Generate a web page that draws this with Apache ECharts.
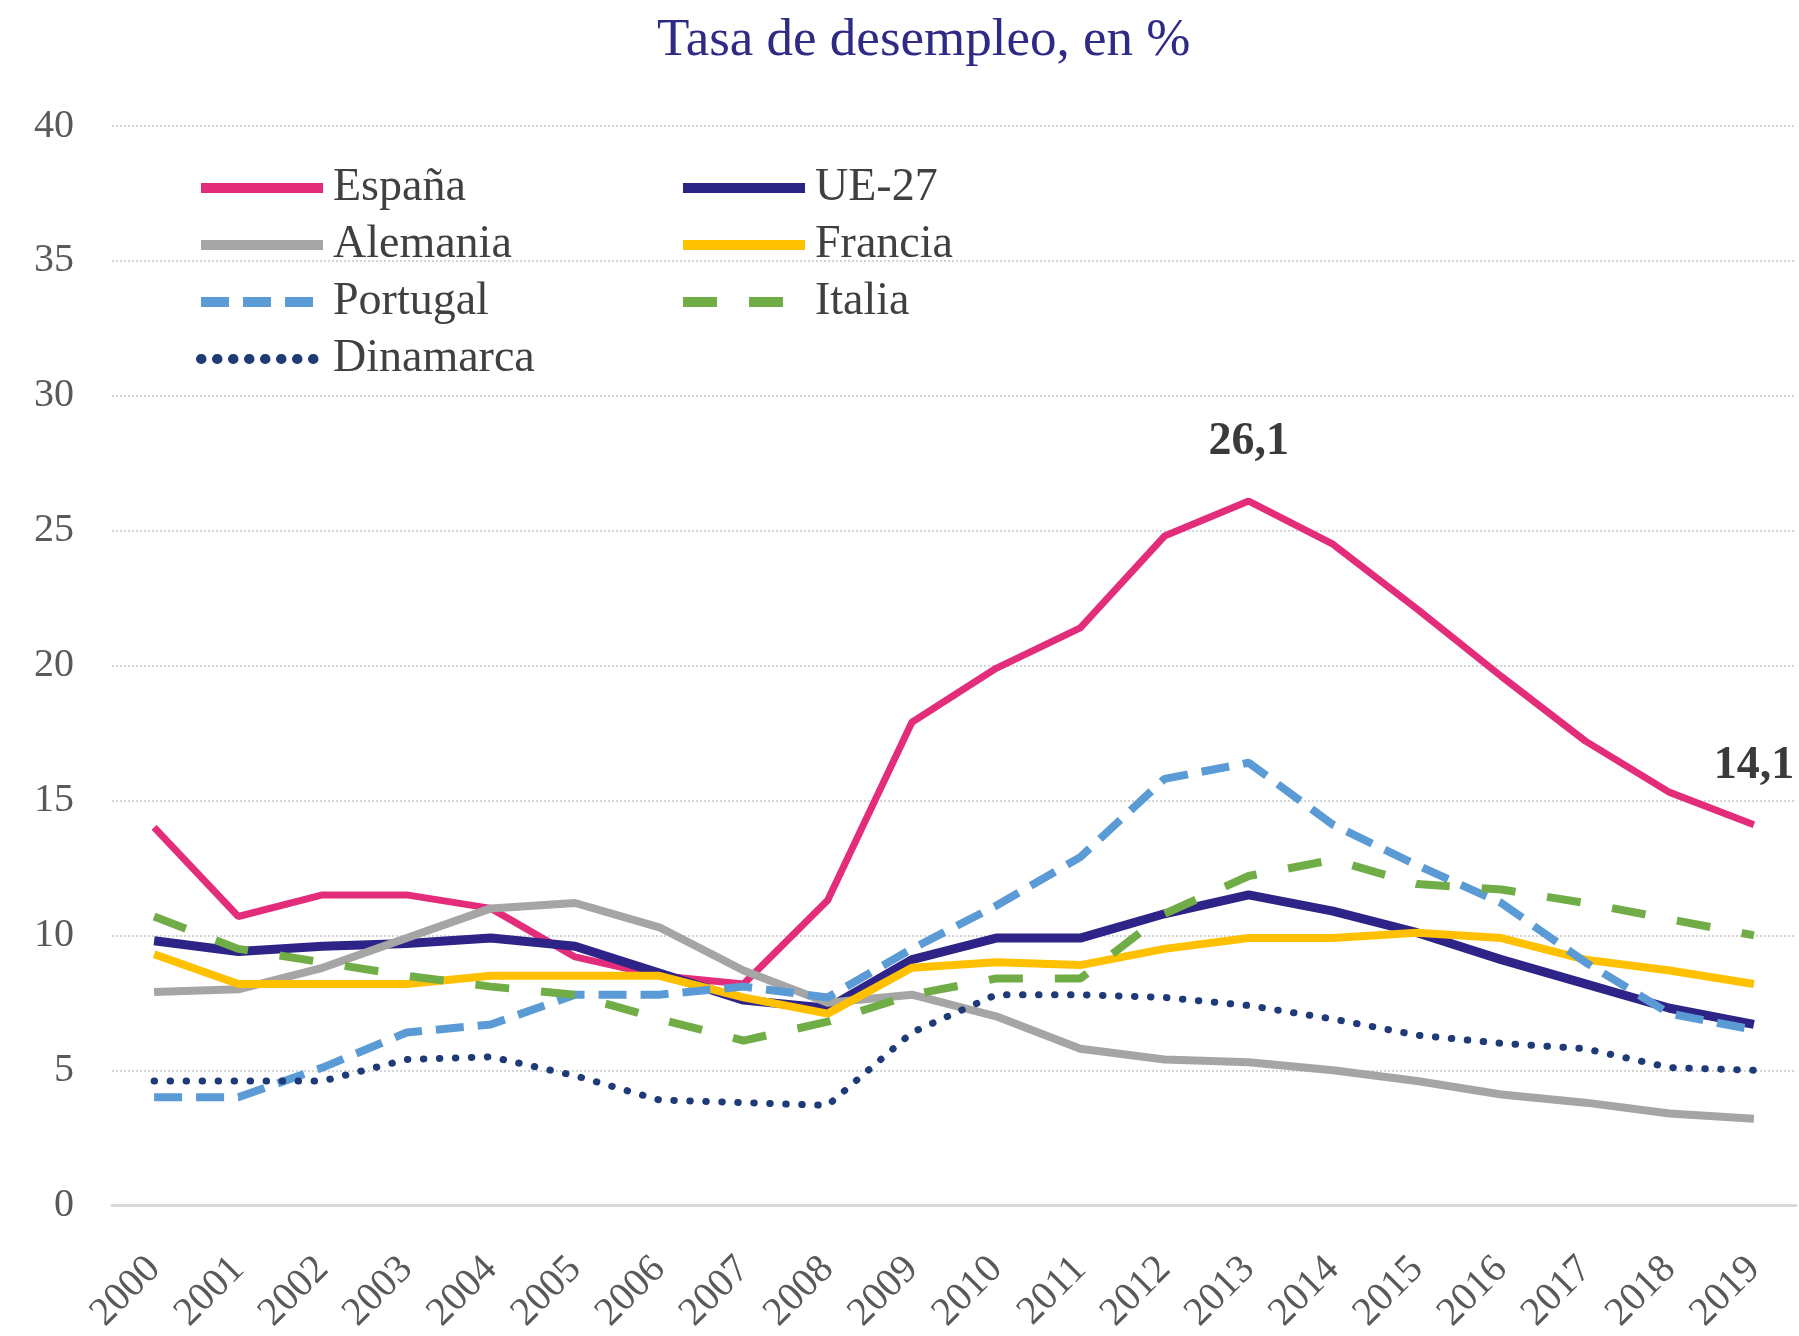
<!DOCTYPE html>
<html>
<head>
<meta charset="utf-8">
<title>Tasa de desempleo</title>
<script src="https://cdn.jsdelivr.net/npm/echarts@6/dist/echarts.min.js"></script>
<style>
    html, body { margin: 0; padding: 0; background: #fff; }
    #chart { width: 1799px; height: 1336px; }
</style>
</head>
<body>
<div id="chart"></div>
<script>
    // años
    var years = ['2000', '2001', '2002', '2003', '2004', '2005', '2006', '2007', '2008', '2009',
        '2010', '2011', '2012', '2013', '2014', '2015', '2016', '2017', '2018', '2019'];

    // tasas
    var espana = [14.0, 10.7, 11.5, 11.5, 11.0, 9.2, 8.5, 8.2, 11.3, 17.9, 19.9, 21.4, 24.8, 26.1, 24.5, 22.1, 19.6, 17.2, 15.3, 14.1];
    var ue27 = [9.8, 9.4, 9.6, 9.7, 9.9, 9.6, 8.6, 7.6, 7.3, 9.1, 9.9, 9.9, 10.8, 11.5, 10.9, 10.1, 9.1, 8.2, 7.3, 6.7];
    var alemania = [7.9, 8.0, 8.8, 9.9, 11.0, 11.2, 10.3, 8.7, 7.5, 7.8, 7.0, 5.8, 5.4, 5.3, 5.0, 4.6, 4.1, 3.8, 3.4, 3.2];
    var francia = [9.3, 8.2, 8.2, 8.2, 8.5, 8.5, 8.5, 7.7, 7.1, 8.8, 9.0, 8.9, 9.5, 9.9, 9.9, 10.1, 9.9, 9.1, 8.7, 8.2];
    var portugal = [4.0, 4.0, 5.1, 6.4, 6.7, 7.8, 7.8, 8.1, 7.7, 9.5, 11.1, 12.9, 15.8, 16.4, 14.1, 12.6, 11.2, 9.0, 7.1, 6.5];
    var italia = [10.7, 9.5, 9.0, 8.5, 8.1, 7.8, 6.9, 6.1, 6.8, 7.8, 8.4, 8.4, 10.8, 12.2, 12.8, 11.9, 11.7, 11.2, 10.6, 10.0];
    var dinamarca = [4.6, 4.6, 4.6, 5.4, 5.5, 4.8, 3.9, 3.8, 3.7, 6.4, 7.8, 7.8, 7.7, 7.4, 6.9, 6.3, 6.0, 5.8, 5.1, 5.0];

    var yTicks = [0, 5, 10, 15, 20, 25, 30, 35, 40];

    // años con valor rotulado (España)
    var labelled = [13, 19];

    var serif = 'Liberation Serif';

    function fmt(v) {
        return v.toFixed(1).replace('.', ',');
    }

    function line(name, data, color, width, type, cap) {
        return {
            name: name,
            type: 'line',
            data: data,
            symbol: 'none',
            lineStyle: {color: color, width: width, type: type || 'solid', cap: cap || 'butt'},
            itemStyle: {color: color},
            emphasis: {disabled: true}
        };
    }

    var spain = line('España', espana, '#e32c7a', 7);
    spain.markPoint = {
        symbol: 'circle',
        symbolSize: 0,
        silent: true,
        label: {
            show: true,
            position: 'top',
            distance: 36,
            fontFamily: serif,
            fontWeight: 'bold',
            fontSize: 46,
            color: '#3a3a3a',
            formatter: function (p) { return fmt(p.value); }
        },
        data: labelled.map(function (i) {
            return {coord: [i, espana[i]], value: espana[i]};
        })
    };

    var myChart = echarts.init(document.getElementById('chart'));

    var legendText = {fontFamily: serif, fontSize: 46, lineHeight: 46, color: '#404040', padding: [0, 0, 0, 5]};

    function legend(left, names) {
        return {
            orient: 'vertical',
            left: left,
            top: 165,
            padding: 0,
            itemWidth: 122,
            itemHeight: 14,
            itemGap: 11,
            data: names,
            textStyle: legendText,
            itemStyle: {color: 'transparent', borderWidth: 0, opacity: 0},
            lineStyle: {width: 10}
        };
    }

    myChart.setOption({
        animation: false,
        title: {
            text: 'Tasa de desempleo, en %',
            left: 652,
            top: 10,
            textStyle: {fontFamily: serif, fontSize: 53, fontWeight: 'normal', color: '#2f2a86'}
        },
        legend: [
            legend(196, ['España', 'Alemania', 'Portugal', 'Dinamarca']),
            legend(678, ['UE-27', 'Francia', 'Italia'])
        ],
        grid: {left: 112, right: 3, top: 126, bottom: 130, containLabel: false},
        xAxis: {
            type: 'category',
            data: years,
            boundaryGap: true,
            axisLine: {show: true, lineStyle: {color: '#d9d9d9', width: 3}},
            axisTick: {show: false},
            axisLabel: {
                rotate: 45,
                margin: 58,
                interval: 0,
                fontFamily: serif,
                fontSize: 40,
                color: '#595959'
            }
        },
        yAxis: {
            type: 'value',
            min: yTicks[0],
            max: yTicks[yTicks.length - 1],
            interval: 5,
            axisLine: {show: false},
            axisTick: {show: false},
            splitLine: {lineStyle: {color: '#d4d4d4', width: 2, type: [2, 2]}},
            axisLabel: {margin: 38, fontFamily: serif, fontSize: 40, color: '#595959'}
        },
        series: [
            spain,
            line('UE-27', ue27, '#2e2386', 9),
            line('Alemania', alemania, '#a5a5a5', 8),
            line('Francia', francia, '#ffc000', 8),
            line('Portugal', portugal, '#5b9bd5', 8, [28, 14]),
            line('Italia', italia, '#70ad47', 8, [34, 32]),
            line('Dinamarca', dinamarca, '#1f3a78', 7, [0.5, 15.5], 'round')
        ]
    });
</script>
</body>
</html>
